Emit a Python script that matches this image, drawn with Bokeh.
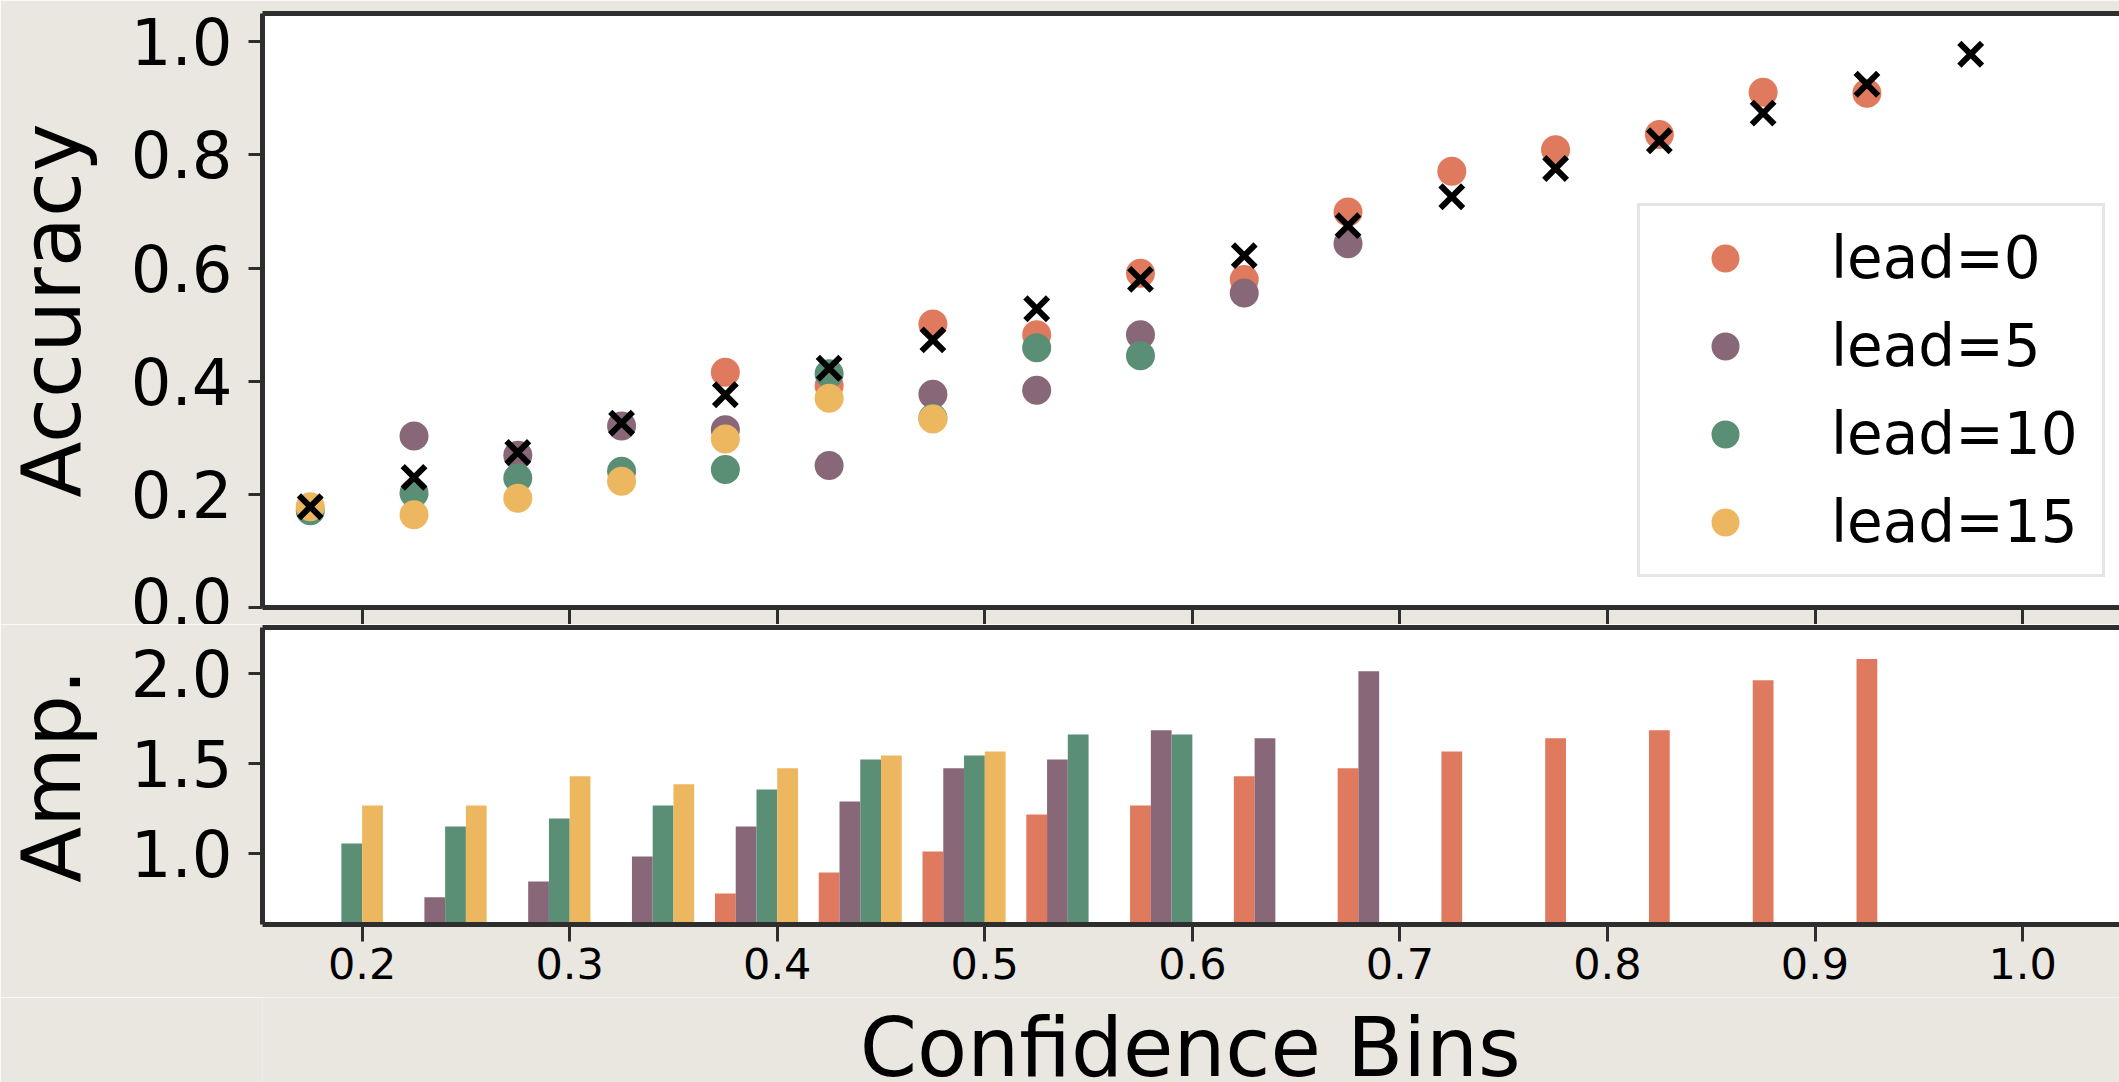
import math
from bokeh.plotting import figure
from bokeh.layouts import column
from bokeh.models import (FixedTicker, PrintfTickFormatter, Legend, LegendItem,
                          LinearAxis, Range1d)
from bokeh.core.properties import value
from bokeh.embed import file_html
from bokeh.resources import INLINE

nan = float("nan")

# ---------------- data ----------------
bin_centers = [0.175, 0.225, 0.275, 0.325, 0.375, 0.425, 0.475, 0.525, 0.575,
               0.625, 0.675, 0.725, 0.775, 0.825, 0.875, 0.925, 0.975]
series_labels = ["lead=0", "lead=5", "lead=10", "lead=15"]
series_colors = ["#E07A5F", "#886878", "#5A8F75", "#ECB75F"]

acc_lead0 = [nan, nan, nan, nan, 0.416, 0.392, 0.501, 0.482, 0.591, 0.580, 0.699,
             0.771, 0.809, 0.836, 0.911, 0.909, nan]
acc_lead5 = [nan, 0.303, 0.269, 0.321, 0.314, 0.251, 0.377, 0.384, 0.482, 0.556,
             0.643, nan, nan, nan, nan, nan, nan]
acc_lead10 = [0.171, 0.202, 0.229, 0.241, 0.244, 0.413, 0.335, 0.459, 0.445, nan,
              nan, nan, nan, nan, nan, nan, nan]
acc_lead15 = [0.178, 0.164, 0.193, 0.223, 0.298, 0.370, 0.333, nan, nan, nan,
              nan, nan, nan, nan, nan, nan, nan]
avg_confidence = [0.178, 0.230, 0.274, 0.326, 0.376, 0.423, 0.473, 0.528, 0.580,
                  0.622, 0.675, 0.726, 0.776, 0.825, 0.874, 0.925, 0.978]

amp_lead0 = [nan, nan, nan, nan, 0.775, 0.892, 1.009, 1.215, 1.266, 1.428, 1.472,
             1.566, 1.639, 1.684, 1.963, 2.080, nan]
amp_lead5 = [nan, 0.755, 0.842, 0.982, 1.149, 1.288, 1.472, 1.522, 1.684, 1.639,
             2.013, nan, nan, nan, nan, nan, nan]
amp_lead10 = [1.054, 1.149, 1.193, 1.266, 1.355, 1.522, 1.544, 1.661, 1.661, nan,
              nan, nan, nan, nan, nan, nan, nan]
amp_lead15 = [1.266, 1.266, 1.428, 1.383, 1.472, 1.544, 1.566, nan, nan, nan,
              nan, nan, nan, nan, nan, nan, nan]

bar_width = 0.01
x_ticks = [0.2, 0.3, 0.4, 0.5, 0.6, 0.7, 0.8, 0.9, 1.0]
acc_ticks = [0.0, 0.2, 0.4, 0.6, 0.8, 1.0]
amp_ticks = [1.0, 1.5, 2.0]
x_label = "Confidence Bins"

acc_series = [acc_lead0, acc_lead5, acc_lead10, acc_lead15]
amp_series = [amp_lead0, amp_lead5, amp_lead10, amp_lead15]

# ---------------- style ----------------
BG = "#EAE7E1"
FRAME = "#2E2E2E"
FONT = "DejaVu Sans"
W = 2119
LEFT = 259
XR = Range1d(0.152, 1.0467)


def style_axis(ax):
    ax.axis_line_color = FRAME
    ax.axis_line_width = 5
    ax.major_tick_line_color = FRAME
    ax.major_tick_line_width = 3
    ax.major_tick_in = 0
    ax.minor_tick_line_color = None
    ax.minor_tick_out = 0
    ax.minor_tick_in = 0
    ax.major_label_text_font = FONT
    ax.major_label_text_color = "black"
    ax.axis_label_text_font = FONT
    ax.axis_label_text_font_style = "normal"
    ax.axis_label_text_color = "black"


def style_common(p):
    p.outline_line_color = None
    p.border_fill_color = BG
    p.background_fill_color = "white"
    p.grid.visible = False
    top = LinearAxis(ticker=FixedTicker(ticks=[]), axis_line_color=FRAME,
                     axis_line_width=5, major_tick_out=0, major_tick_in=0,
                     minor_tick_out=0, minor_tick_in=0, major_label_standoff=0)
    p.add_layout(top, "above")
    style_axis(p.below[0])
    style_axis(p.left[0])


def style_yaxis(ax, ticks, label):
    ax.ticker = FixedTicker(ticks=ticks)
    ax.formatter = PrintfTickFormatter(format="%.1f")
    ax.major_label_text_font_size = "64px"
    ax.major_tick_out = 14
    ax.major_label_standoff = 16
    ax.axis_label = label
    ax.axis_label_text_font_size = "82px"
    ax.axis_label_standoff = 29


# ---------------- top: accuracy ----------------
p1 = figure(width=W, height=624, x_range=XR, y_range=Range1d(0, 1.05),
            output_backend="svg", toolbar_location=None,
            min_border_left=LEFT, min_border_right=0, min_border_top=13, min_border_bottom=17)
style_common(p1)
xa1 = p1.below[0]
xa1.ticker = FixedTicker(ticks=[], minor_ticks=x_ticks)   # ticks only, no labels
xa1.major_label_standoff = 0
xa1.minor_tick_out = 17
xa1.minor_tick_in = 0
xa1.minor_tick_line_color = FRAME
xa1.minor_tick_line_width = 3
style_yaxis(p1.left[0], acc_ticks, "Accuracy")

items = []
for lab, col, vals in zip(series_labels, series_colors, acc_series):
    xs = [x for x, v in zip(bin_centers, vals) if not math.isnan(v)]
    ys = [v for v in vals if not math.isnan(v)]
    r = p1.scatter(x=xs, y=ys, size=29, fill_color=col, line_color=None, marker="circle")
    items.append(LegendItem(label=lab, renderers=[r]))
p1.scatter(x=bin_centers, y=avg_confidence, marker="x", size=32, line_color="black",
           line_width=6)

legend = Legend(items=items, location=(1375, 30), orientation="vertical",
                label_text_font=FONT, label_text_font_size="58px", label_text_color="black",
                glyph_width=136, glyph_height=70, label_standoff=38, label_width=254,
                label_height=70, padding=17, spacing=18, margin=0,
                border_line_color="#CCCCCC", border_line_width=3,
                background_fill_color="white", background_fill_alpha=0.85)
p1.add_layout(legend, "center")

# ---------------- bottom: amplitude ----------------
p2 = figure(width=W, height=373, x_range=XR, y_range=Range1d(0.603, 2.256),
            output_backend="svg", toolbar_location=None,
            min_border_left=LEFT, min_border_right=0, min_border_top=3, min_border_bottom=73)
style_common(p2)
xa2 = p2.below[0]
xa2.ticker = FixedTicker(ticks=x_ticks)
xa2.formatter = PrintfTickFormatter(format="%.1f")
xa2.major_label_text_font_size = "43px"
xa2.major_tick_out = 17
xa2.major_label_standoff = 6
style_yaxis(p2.left[0], amp_ticks, "Amp.")

for i, (col, vals) in enumerate(zip(series_colors, amp_series)):
    xs = [x + i * bar_width for x, v in zip(bin_centers, vals) if not math.isnan(v)]
    ys = [v for v in vals if not math.isnan(v)]
    p2.vbar(x=xs, top=ys, bottom=0, width=bar_width, fill_color=col, line_color=None)

# ---------------- x-axis title strip ----------------
p3 = figure(width=W, height=85, x_range=XR, y_range=Range1d(0, 85),
            output_backend="svg", toolbar_location=None,
            x_axis_location=None, y_axis_location=None,
            min_border_left=LEFT, min_border_right=0, min_border_top=0, min_border_bottom=0)
p3.outline_line_color = None
p3.border_fill_color = BG
p3.background_fill_color = BG
p3.grid.visible = False
p3.text(x=[0.599], y=[35], text=[x_label], text_align="center", text_baseline="middle",
        text_font=value(FONT), text_font_size="82px", text_color="black")

layout = column(p1, p2, p3, spacing=0)
open("out.html", "w").write(file_html(layout, INLINE))
